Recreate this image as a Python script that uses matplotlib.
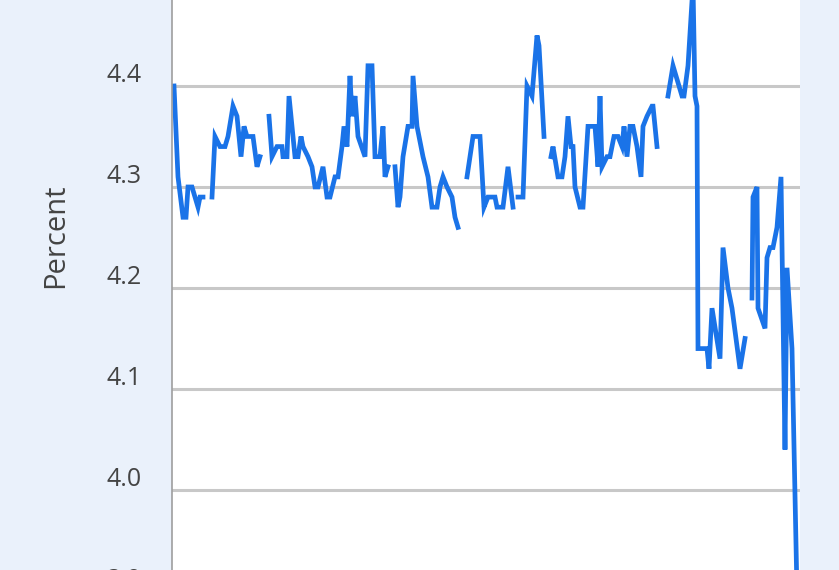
import numpy as np
import matplotlib.pyplot as plt
from matplotlib.transforms import ScaledTranslation

# positions along the time axis, nan marks a gap in the series
period = [
    2, 6, 11, 14, 16, 20, 26, 28, 31, np.nan,
    40, 43, 48, 53, 56, 61, 65, 69, 72, 75, 78, 81, 85, 88, np.nan,
    97, 100, 105, 110, 111, 115, 117, 123, 126, 129, 131, 136, 140, 143, 146,
    151, 155, 158, 163, 166, 170, 172, 175, 178, 180, 183, 186, 193, 196, 200,
    203, 208, 211, 213, 216, np.nan,
    223, 226, 228, 231, 236, 240, 241, 245, 251, 256, 260, 265, 268, 271, 275,
    280, 283, 286, np.nan,
    295, 298, 301, 308, 312, 316, 323, 325, 331, 336, 341, np.nan,
    346, 351, 355, 360, 365, 367, 372, np.nan,
    379, 381, 386, 390, 393, 396, 399, 401, 403, 408, 411, 416, 423, 426, 428,
    430, 435, 438, 442, 446, 450, 452, 455, 458, 461, 465, 469, 471, 475, 480,
    481, 485, np.nan,
    496, 501, 510, 512, 516, 521, 523, 525, 526, 531, 535, 537, 540, 548, 551,
    556, 560, 568, 573, np.nan,
    580, 581, 585, 586, 593, 595, 598, 601, 605, 609, 613, 615, 620, 626,
]

percent = [
    4.40, 4.31, 4.27, 4.27, 4.30, 4.30, 4.28, 4.29, 4.29, np.nan,
    4.29, 4.35, 4.34, 4.34, 4.35, 4.38, 4.37, 4.33, 4.36, 4.35, 4.35, 4.35,
    4.32, 4.33, np.nan,
    4.37, 4.33, 4.34, 4.34, 4.33, 4.33, 4.39, 4.33, 4.33, 4.35, 4.34, 4.33,
    4.32, 4.30, 4.30, 4.32, 4.29, 4.29, 4.31, 4.31, 4.34, 4.36, 4.34, 4.41,
    4.37, 4.39, 4.35, 4.33, 4.42, 4.42, 4.33, 4.33, 4.36, 4.31, 4.32, np.nan,
    4.32, 4.28, 4.29, 4.33, 4.36, 4.36, 4.41, 4.36, 4.33, 4.31, 4.28, 4.28,
    4.30, 4.31, 4.30, 4.29, 4.27, 4.26, np.nan,
    4.31, 4.33, 4.35, 4.35, 4.28, 4.29, 4.29, 4.28, 4.28, 4.32, 4.28, np.nan,
    4.29, 4.29, 4.40, 4.39, 4.45, 4.44, 4.35, np.nan,
    4.33, 4.34, 4.31, 4.31, 4.33, 4.37, 4.34, 4.34, 4.30, 4.28, 4.28, 4.36,
    4.36, 4.32, 4.39, 4.32, 4.33, 4.33, 4.35, 4.35, 4.34, 4.36, 4.33, 4.36,
    4.36, 4.34, 4.31, 4.36, 4.37, 4.38, 4.38, 4.34, np.nan,
    4.39, 4.42, 4.39, 4.39, 4.42, 4.50, 4.39, 4.38, 4.14, 4.14, 4.14, 4.12,
    4.18, 4.13, 4.24, 4.20, 4.18, 4.12, 4.15, np.nan,
    4.19, 4.29, 4.30, 4.18, 4.16, 4.23, 4.24, 4.24, 4.26, 4.31, 4.04, 4.22,
    4.14, 3.85,
]

yticks = [4.0, 4.1, 4.2, 4.3, 4.4]

BG = "#eaf1fb"
TXT = "#444444"
LINE = "#1a73e8"

plt.rcParams["font.family"] = ["Open Sans", "DejaVu Sans"]

fig = plt.figure(figsize=(8.39, 5.70), dpi=100, facecolor=BG)
ax = fig.add_axes([172 / 839, 0.0, 628 / 839, 1.0])
ax.set_facecolor("white")

ax.plot(period, percent, color=LINE, lw=3.4, solid_joinstyle="miter")

ax.set_xlim(0, 628)
ax.set_ylim(3.9208, 4.4851)
ax.set_xticks([])
ax.set_yticks(yticks)
ax.set_yticklabels([f"{v:.1f}" for v in yticks])
ax.yaxis.grid(True, color="#c8c8c8", lw=2.2)
ax.set_axisbelow(True)
ax.tick_params(axis="y", length=0, pad=21.6, labelsize=18, labelcolor=TXT)
# labels sit just above their grid line
shift = ScaledTranslation(0, -2 / 100, fig.dpi_scale_trans)
for lab in ax.get_yticklabels():
    lab.set_verticalalignment("bottom")
    lab.set_transform(lab.get_transform() + shift)

# 3.9 label sits just below the visible area and is cut by the figure edge
ax.annotate("3.9", xy=(0, 3.9), xycoords=ax.get_yaxis_transform(),
            xytext=(-21.6, -1.4), textcoords="offset points", ha="right",
            va="bottom", fontsize=18, color=TXT, annotation_clip=False)

for side in ("top", "right", "bottom"):
    ax.spines[side].set_visible(False)
ax.spines["left"].set_color("#9e9e9e")
ax.spines["left"].set_linewidth(1.2)

ax.set_ylabel("Percent", fontsize=21, color=TXT)
ax.yaxis.set_label_coords(-0.186, (570 - 236) / 570)
ax.yaxis.label.set_verticalalignment("center")

fig.savefig("out.png", dpi=100, facecolor=BG)
